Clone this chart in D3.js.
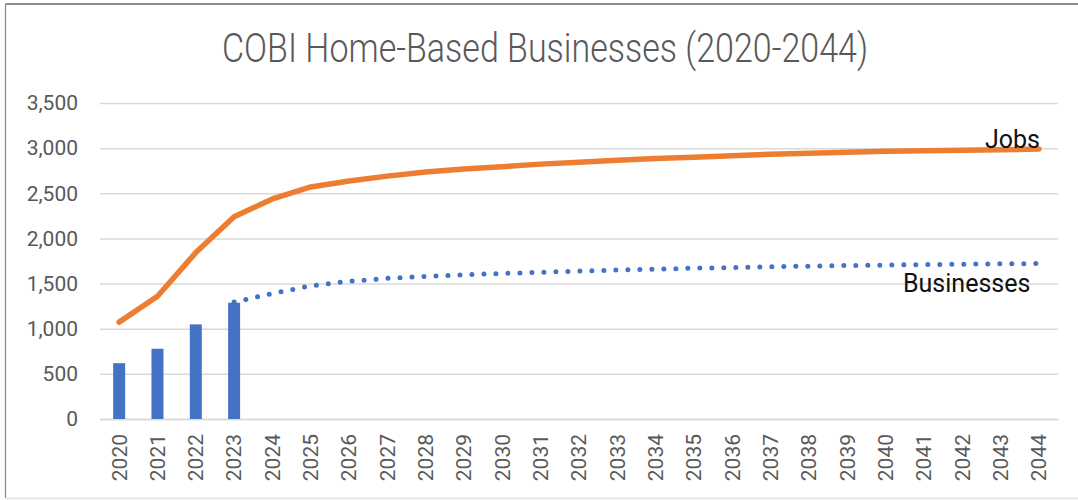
<!DOCTYPE html>
<html>
<head>
<meta charset="utf-8">
<script src="https://cdn.jsdelivr.net/npm/d3@7"></script>
<style>
  body { margin: 0; background: #fff; }
  svg { display: block; }
</style>
</head>
<body>
<svg id="chart"></svg>
<script>
const years = ["2020","2021","2022","2023","2024","2025","2026","2027","2028","2029","2030","2031","2032",
               "2033","2034","2035","2036","2037","2038","2039","2040","2041","2042","2043","2044"];

// actual businesses (bars)
const businessYears = ["2020","2021","2022","2023"];
const businessValues = [618, 778, 1048, 1288];

// projected businesses (dotted line, from 2023 on)
const forecastYears = ["2023","2024","2025","2026","2027","2028","2029","2030","2031","2032","2033","2034",
                       "2035","2036","2037","2038","2039","2040","2041","2042","2043","2044"];
const forecastValues = [1295, 1390, 1475, 1525, 1558, 1580, 1598, 1612, 1625, 1638, 1650, 1660,
                        1670, 1678, 1686, 1693, 1700, 1705, 1710, 1715, 1719, 1722];

// jobs (solid line)
const jobsValues = [1073, 1360, 1843, 2240, 2438, 2570, 2636, 2690, 2735, 2768, 2795, 2823, 2845,
                    2867, 2884, 2900, 2916, 2933, 2944, 2955, 2966, 2972, 2977, 2983, 2990];

const yTicks = [0, 500, 1000, 1500, 2000, 2500, 3000, 3500];

const width = 1078;
const height = 500;
const plotLeft = 100, plotRight = 1058, plotTop = 103, plotBottom = 419;

const svg = d3.select("#chart")
  .attr("width", width)
  .attr("height", height);

// outer frame
svg.append("line").attr("x1", 5.5).attr("x2", width).attr("y1", 4).attr("y2", 4)
  .attr("stroke", "#8c8c8c").attr("stroke-width", 2);
svg.append("line").attr("x1", 5.5).attr("x2", 5.5).attr("y1", 4).attr("y2", 498)
  .attr("stroke", "#8c8c8c").attr("stroke-width", 1.3);
svg.append("line").attr("x1", 5.5).attr("x2", width).attr("y1", 498.5).attr("y2", 498.5)
  .attr("stroke", "#e3e3e3").attr("stroke-width", 1.3);

const xScale = d3.scaleBand()
  .domain(years)
  .range([plotLeft, plotRight])
  .padding(0);

const yScale = d3.scaleLinear()
  .domain([0, 3500])
  .range([plotBottom, plotTop]);

const cx = d => xScale(d) + xScale.bandwidth() / 2;

// gridlines + y labels
const yAxis = d3.axisLeft(yScale)
  .tickValues(yTicks)
  .tickSize(-(plotRight - plotLeft))
  .tickSizeOuter(0)
  .tickPadding(22)
  .tickFormat(d3.format(","));

const gy = svg.append("g")
  .attr("transform", `translate(${plotLeft}, 0)`)
  .call(yAxis);
gy.select(".domain").remove();
gy.selectAll(".tick line").attr("stroke", "#d9d9d9").attr("stroke-width", 1.5);
gy.selectAll(".tick text")
  .attr("fill", "#595959")
  .style("font-family", "Roboto, sans-serif")
  .style("font-size", "21px");

// x axis labels
const xAxis = d3.axisBottom(xScale)
  .tickSize(0)
  .tickSizeOuter(0);

const gx = svg.append("g")
  .attr("transform", `translate(0, ${plotBottom})`)
  .call(xAxis);
gx.select(".domain").attr("stroke", "#d9d9d9").attr("stroke-width", 1.5);
gx.selectAll(".tick text")
  .attr("transform", "rotate(-90)")
  .attr("x", -15)
  .attr("y", 0)
  .attr("dy", "0.35em")
  .style("text-anchor", "end")
  .attr("fill", "#595959")
  .style("font-family", "Roboto, sans-serif")
  .style("font-size", "21px");

// bars
const barW = 12;
svg.append("g")
  .selectAll("rect")
  .data(businessYears)
  .enter()
  .append("rect")
    .attr("x", d => cx(d) - barW / 2)
    .attr("y", (d, i) => yScale(businessValues[i]))
    .attr("width", barW)
    .attr("height", (d, i) => yScale(0) - yScale(businessValues[i]))
    .attr("fill", "#4472c4");

const line = d3.line()
  .x(d => cx(d[0]))
  .y(d => yScale(d[1]));

// dotted forecast line
svg.append("path")
  .datum(forecastYears.map((y, i) => [y, forecastValues[i]]))
  .attr("d", line)
  .attr("fill", "none")
  .attr("stroke", "#4472c4")
  .attr("stroke-width", 5)
  .attr("stroke-linecap", "round")
  .attr("stroke-dasharray", "0 12");

// jobs line
svg.append("path")
  .datum(years.map((y, i) => [y, jobsValues[i]]))
  .attr("d", line)
  .attr("fill", "none")
  .attr("stroke", "#ed7d31")
  .attr("stroke-width", 5.5)
  .attr("stroke-linecap", "round")
  .attr("stroke-linejoin", "round");

// series labels
svg.append("text")
  .attr("x", 985)
  .attr("y", 148)
  .style("font-family", "Roboto, sans-serif")
  .style("font-size", "25px")
  .attr("fill", "#111")
  .text("Jobs");

svg.append("text")
  .attr("x", 903)
  .attr("y", 292)
  .style("font-family", "Roboto, sans-serif")
  .style("font-size", "25px")
  .attr("fill", "#111")
  .text("Businesses");

// title
svg.append("text")
  .attr("x", 545)
  .attr("y", 62)
  .style("text-anchor", "middle")
  .style("font-family", "Roboto, sans-serif")
  .style("font-weight", 300)
  .style("font-size", "41px")
  .attr("fill", "#595959")
  .attr("textLength", 646)
  .attr("lengthAdjust", "spacingAndGlyphs")
  .text("COBI Home-Based Businesses (2020-2044)");
</script>
</body>
</html>
